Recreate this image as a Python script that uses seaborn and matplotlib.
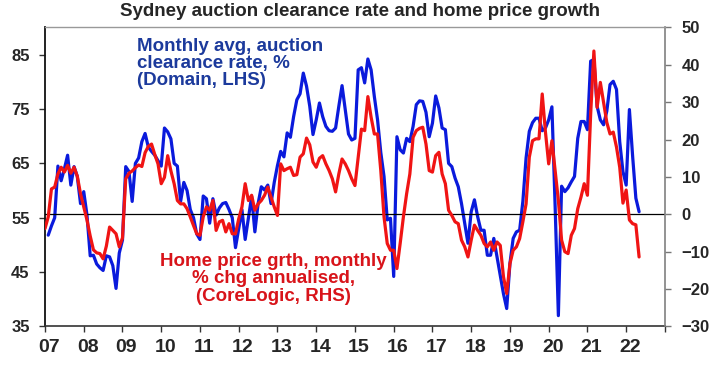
import matplotlib
matplotlib.use("Agg")
import matplotlib.pyplot as plt
import matplotlib.transforms as mtransforms
import seaborn as sns
import pandas as pd

# Sydney monthly avg auction clearance rate, % (Domain, LHS) - Feb 2007 onwards
clearance_rate = [
    51.8, 53.5, 55.0, 64.5, 61.8, 64.0, 66.5, 61.0, 64.4, 62.6, 57.6,
    59.8, 55.5, 48.0, 48.1, 46.5, 45.8, 45.3, 48.0, 47.8, 46.2, 42.0, 48.5,
    50.9, 64.4, 63.5, 58.0, 65.0, 66.0, 69.0, 70.5, 68.0, 67.2, 66.5, 65.5,
    64.5, 71.5, 70.8, 69.5, 65.0, 64.5, 58.0, 61.5, 60.0, 56.5, 55.0, 52.0,
    51.0, 59.0, 58.5, 54.0, 58.5, 55.5, 56.8, 57.6, 57.8, 56.5, 55.0, 49.5,
    53.0, 56.5, 51.0, 55.0, 58.9, 52.4, 57.6, 60.7, 60.1, 61.0, 57.6, 61.5,
    64.6, 67.2, 66.2, 70.6, 69.8, 73.6, 76.7, 77.8, 81.6, 79.2, 75.5, 70.3,
    73.0, 76.1, 73.6, 71.8, 71.0, 70.9, 71.5, 75.5, 79.3, 74.9, 70.4, 69.3,
    69.6, 82.2, 82.6, 79.8, 84.2, 82.2, 77.3, 73.0, 67.0, 62.6, 54.6, 54.9,
    44.2, 69.9, 67.5, 66.9, 69.6, 69.0, 71.8, 75.8, 76.5, 76.4, 74.4, 69.9,
    72.4, 77.4, 75.2, 71.5, 71.2, 65.0, 64.4, 62.3, 60.7, 57.6, 54.0, 50.3,
    56.1, 58.3, 55.2, 52.7, 52.7, 48.1, 48.1, 51.2, 47.8, 44.5, 41.0, 38.3,
    46.6, 51.2, 52.4, 52.7, 58.0, 66.0, 70.9, 72.5, 73.3, 73.3, 71.0, 71.5,
    73.0, 75.4, 57.0, 37.0, 60.8, 59.8, 60.5, 61.6, 62.6, 69.6, 72.7, 72.7,
    71.2, 83.8, 84.1, 75.5, 73.0, 72.1, 74.6, 79.5, 80.1, 78.6, 69.0, 63.5,
    61.0, 74.9, 66.3, 58.6, 56.1,
]

# Home price growth, monthly % chg annualised (CoreLogic, RHS) - Jan 2007 onwards
price_growth = [
    -3.8, -0.7, 6.8, 7.3, 10.8, 12.6, 11.3, 13.1, 11.0, 12.6, 10.2, 5.5,
    2.0, -1.5, -5.8, -9.5, -10.3, -10.5, -11.9, -8.5, -3.4, -4.3, -5.2, -8.7,
    -6.3, 9.5, 11.0, 11.6, 12.5, 13.2, 12.8, 16.5, 18.2, 18.8, 16.0, 13.5,
    8.2, 9.9, 15.7, 11.6, 8.2, 3.7, 2.8, 2.8, 1.5, -0.7, -3.0, -5.2,
    -5.6, -0.7, 2.0, 1.1, 3.7, -4.3, -2.0, -1.6, -4.7, -2.5, -5.2, -5.2,
    -1.2, 2.0, 8.2, 3.7, 5.1, 1.1, 2.8, 3.7, 5.1, 7.3, 4.6, 2.0,
    -0.3, 13.5, 11.7, 12.2, 12.6, 10.4, 10.6, 15.3, 16.2, 20.4, 18.6, 14.0,
    12.6, 15.0, 15.7, 13.5, 11.7, 9.5, 6.0, 10.8, 14.8, 13.5, 11.7, 9.5,
    7.7, 15.3, 22.8, 22.4, 31.5, 26.0, 21.5, 21.5, 11.7, -0.7, -7.8, -9.6,
    -9.6, -14.5, -7.8, -0.7, 5.5, 10.8, 20.6, 22.4, 23.0, 23.3, 18.8, 11.7,
    11.3, 15.7, 16.6, 10.8, 8.2, 1.1, -0.3, -2.0, -2.5, -6.9, -8.7, -11.4,
    -6.9, -2.9, -4.3, -5.6, -7.8, -8.7, -7.4, -9.6, -7.4, -8.3, -16.7, -21.2,
    -13.2, -9.6, -8.7, -6.5, -2.0, 2.8, 15.3, 19.7, 20.2, 20.2, 32.2, 22.0,
    13.5, 19.7, 11.7, 3.7, -6.9, -10.0, -10.5, -5.6, -3.8, 1.5, 4.6, 8.2,
    5.1, 26.8, 43.7, 28.6, 35.3, 30.0, 24.6, 21.5, 22.0, 18.0, 12.6, 3.0,
    6.5, -1.5, -2.5, -2.8, -11.4,
]

year_labels = ['07', '08', '09', '10', '11', '12', '13', '14', '15',
               '16', '17', '18', '19', '20', '21', '22']
left_ticks = [35, 45, 55, 65, 75, 85]
right_ticks = [-30, -20, -10, 0, 10, 20, 30, 40, 50]

BLUE = '#0A1ADC'
RED = '#F01414'
BLUE_TEXT = '#1C3A9C'
RED_TEXT = '#D8141A'


def to_year(dates):
    return dates.year + (dates.month - 1) / 12


clear_dates = pd.date_range('2007-02-01', periods=len(clearance_rate), freq='MS')
price_dates = pd.date_range('2007-01-01', periods=len(price_growth), freq='MS')
df_clear = pd.DataFrame({'year': to_year(clear_dates), 'rate': clearance_rate})
df_price = pd.DataFrame({'year': to_year(price_dates), 'growth': price_growth})

sns.set_theme(style='white')
plt.rcParams['font.family'] = ['Liberation Sans', 'DejaVu Sans']
plt.rcParams['font.weight'] = 'bold'

fig = plt.figure(figsize=(7.2, 3.66), dpi=100)
ax = fig.add_axes([0.0625, 0.108, 0.861, 0.817])

sns.lineplot(data=df_clear, x='year', y='rate', ax=ax, color=BLUE, linewidth=2.3)
ax2 = ax.twinx()
sns.lineplot(data=df_price, x='year', y='growth', ax=ax2, color=RED, linewidth=2.3)
ax2.axhline(0, color='black', linewidth=0.9, zorder=0)

# axes ranges and ticks
ax.set_xlim(2007, 2023)
ax.set_xticks(range(2007, 2024))
ax.set_xticklabels(year_labels + [''])
ax.set_ylim(35, 90)
ax.set_yticks(left_ticks)
ax2.set_ylim(-30, 50)
ax2.set_yticks(right_ticks)
for a in (ax, ax2):
    a.set_xlabel('')
    a.set_ylabel('')

ax.tick_params(axis='x', bottom=True, direction='out', length=4, width=1,
               color='#333333', labelsize=14, pad=5)
ax.tick_params(axis='y', left=True, direction='out', length=4, width=1,
               color='#333333', labelsize=12, pad=7)
ax2.tick_params(axis='y', right=True, labelright=True, direction='out', length=4,
                width=1, color='#777777', labelsize=12, pad=8)

# year labels sit a little right of their ticks
shift = mtransforms.ScaledTranslation(4 / 100, 0, fig.dpi_scale_trans)
for lbl in ax.get_xticklabels():
    lbl.set_transform(lbl.get_transform() + shift)

for side in ('top', 'right'):
    ax.spines[side].set_visible(False)
ax.spines['left'].set_color('#111111')
ax.spines['left'].set_linewidth(1.3)
ax.spines['bottom'].set_color('#333333')
ax.spines['bottom'].set_linewidth(1.2)
ax2.spines['left'].set_visible(False)
ax2.spines['bottom'].set_visible(False)
ax2.spines['right'].set_color('#808080')
ax2.spines['right'].set_linewidth(1.2)
ax2.spines['top'].set_color('#999999')
ax2.spines['top'].set_linewidth(1.0)

# series annotations
ax.text(2009.37, 88.0, 'Monthly avg, auction\nclearance rate, %\n(Domain, LHS)',
        color=BLUE_TEXT, fontsize=13.5, fontweight='bold', ha='left', va='top',
        linespacing=1.0)
ax.text(2012.9, 48.6, 'Home price grth, monthly\n% chg annualised,\n(CoreLogic, RHS)',
        color=RED_TEXT, fontsize=13.5, fontweight='bold', ha='center', va='top',
        multialignment='center', linespacing=1.05)

fig.text(0.5, 1 - 12 / 366, 'Sydney auction clearance rate and home price growth',
         ha='center', va='center', fontsize=13.5, fontweight='bold')

fig.savefig('out.png', dpi=100)
